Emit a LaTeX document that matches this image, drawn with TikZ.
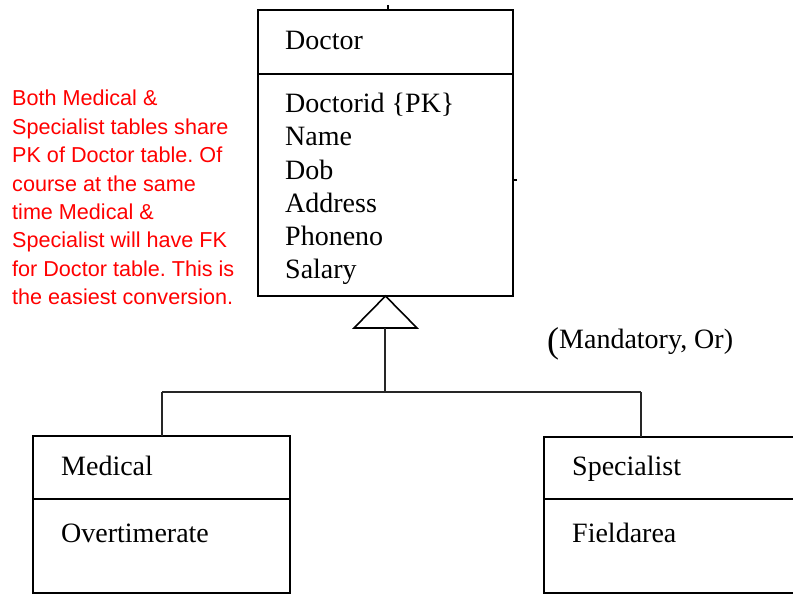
\documentclass[tikz,border=0pt]{standalone}
\usepackage{fontspec}
\setmainfont{Liberation Serif}
\newfontfamily\notefont{Liberation Sans}
\frenchspacing
\begin{document}
\begin{tikzpicture}[x=1pt,y=-1pt,
  box/.style={draw=black, line width=1.6pt, minimum width=#1, inner sep=0pt, outer sep=0pt},
  label/.style={anchor=base west, inner sep=0pt, font=\fontsize{28}{33}\selectfont},
  link/.style={draw=black!85, line width=1.6pt},
  note/.style={anchor=north west, inner sep=0pt, align=left, text=red,
    font=\notefont\fontsize{21.6}{28.4}\selectfont}]
\useasboundingbox (0,0) rectangle (793,594);
\clip (0,0) rectangle (793,594);

% Doctor class
\node[box=255pt, minimum height=64pt] (doctitle) at (385.5,42) {};
\node[box=255pt, minimum height=222pt, anchor=north] (docattr) at (doctitle.south) {};
\node[label] (tdoc) at (285,50) {Doctor};
\node[label] (a1) at (285,113) {Doctorid \{PK\}};
\node[label] (a2) at (285,146) {Name};
\node[label] (a3) at (285,179) {Dob};
\node[label] (a4) at (285,212) {Address};
\node[label] (a5) at (285,245) {Phoneno};
\node[label] (a6) at (285,278) {Salary};

% small stray ticks on the Doctor outline
\coordinate (tickA) at (388,5);
\coordinate (tickB) at (517,180);
\draw[line width=1.4pt] (tickA) -- (tickA |- doctitle.north);
\draw[line width=1.2pt] (tickB) -- (tickB -| docattr.east);

% Medical class
\node[box=257pt, minimum height=63pt] (medtitle) at (161.5,467.5) {};
\node[box=257pt, minimum height=94pt, anchor=north] (medattr) at (medtitle.south) {};
\node[label] (tmed) at (61,475) {Medical};
\node[label] (tover) at (61,542) {Overtimerate};

% Specialist class (runs past the right edge)
\node[box=260pt, minimum height=62pt] (spectitle) at (674,468) {};
\node[box=260pt, minimum height=94pt, anchor=north] (specattr) at (spectitle.south) {};
\node[label] (tspec) at (572,475) {Specialist};
\node[label] (tfield) at (572,542) {Fieldarea};

% generalisation: hollow triangle, stem and branches
\coordinate (apex) at (docattr.south);
\coordinate (tl) at (354,328);
\coordinate (tr) at (417,328);
\coordinate (tb) at (385,328);
\coordinate (join) at (385,392);
\coordinate (jl) at (162,392);
\coordinate (jr) at (641,392);
\draw[line width=1.6pt, line join=miter, fill=white] (apex) -- (tr) -- (tl) -- cycle;
\draw[link] (tb) -- (join);
\draw[link] (jl) -- (jr);
\draw[link] (jl) -- (jl |- medtitle.north);
\draw[link] (jr) -- (jr |- spectitle.north);

% constraint
\node[anchor=base west, inner sep=0pt, font=\fontsize{36}{36}\selectfont] (paren) at (547,352) {(};
\node[label] (constraint) at (559,348) {Mandatory, Or)};

% note
\node[note] (memo) at (12,90) {Both Medical \&\\Specialist tables share\\PK of Doctor table. Of\\course at the same\\time Medical \&\\Specialist will have FK\\for Doctor table. This is\\the easiest conversion.};
\end{tikzpicture}
\end{document}
